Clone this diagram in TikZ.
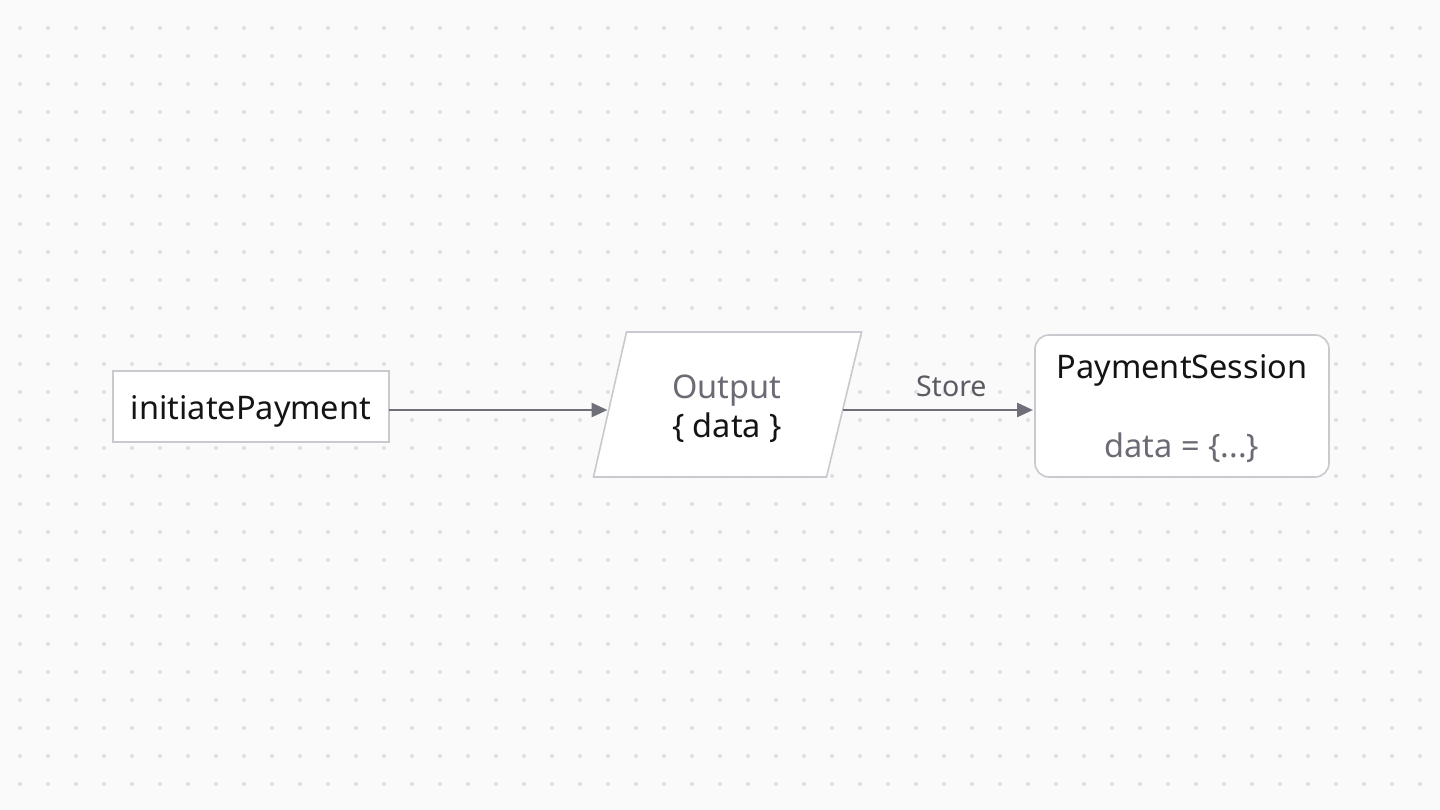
\documentclass[tikz,border=0pt]{standalone}
\usepackage{fontspec}
\setmainfont{Noto Sans}
\usetikzlibrary{arrows.meta}
\definecolor{bgc}{HTML}{FAFAFA}
\definecolor{dotc}{HTML}{DFDFE1}
\definecolor{edgec}{HTML}{C9C9CF}
\definecolor{linec}{HTML}{6F6F7A}
\definecolor{greytext}{HTML}{6B6B75}
\definecolor{darktext}{HTML}{141416}
\tikzset{
  shapebox/.style={draw=edgec, line width=1.6pt, fill=white, inner sep=0pt, outer sep=0pt},
  maintext/.style={font=\fontsize{32.5}{38}\selectfont, text=darktext, anchor=base, inner sep=0pt},
  subtext/.style={font=\fontsize{32.5}{38}\selectfont, text=greytext, anchor=base, inner sep=0pt},
  edgelabel/.style={font=\fontsize{28.5}{32}\selectfont, text=greytext!85!black, anchor=base, inner sep=0pt},
  conn/.style={draw=linec, line width=2.8pt, -{Triangle[length=16pt,width=14pt]}}
}
\begin{document}
\begin{tikzpicture}[x=1pt,y=-1pt]
\fill[bgc] (0,0) rectangle (1440,810);
\useasboundingbox (0,0) rectangle (1440,810);
\foreach \i in {0,...,50}{
  \foreach \j in {0,...,27}{
    \fill[dotc] (20+28*\i,28+28*\j) circle[radius=2pt];
  }
}
% initiatePayment
\node[shapebox, minimum width=276pt, minimum height=71pt] (init) at (251,406.5) {};
\node[maintext] (initt) at (251,419) {initiatePayment};
% parallelogram
\node[inner sep=0pt, outer sep=0pt, minimum width=234pt, minimum height=145pt] (outp) at (726.5,404.5) {};
\draw[shapebox] (outp.north west) ++(17,0) coordinate (p1)
  -- ++(235,0) -- ++(-35,145) -- ++(-233,0) -- cycle;
\node[subtext] (outt) at (727,398) {Output};
\node[maintext] (outd) at (727,437) {\{ data \}};
\coordinate (inL) at (607.5,410);
\coordinate (inR) at (843,410);
% PaymentSession
\node[shapebox, rounded corners=14pt, minimum width=294pt, minimum height=142pt] (ps) at (1182,406) {};
\node[maintext] (pst) at (1182,378) {PaymentSession};
\node[subtext] (psd) at (1182,457) {data = \{...\}};
\coordinate (psL) at (1033,410);
% connectors
\draw[conn] ([yshift=-3.5pt]init.east) -- (inL);
\draw[conn] (inR) -- (psL) node[edgelabel, pos=0.57, yshift=14pt] (store) {Store};
\end{tikzpicture}
\end{document}
